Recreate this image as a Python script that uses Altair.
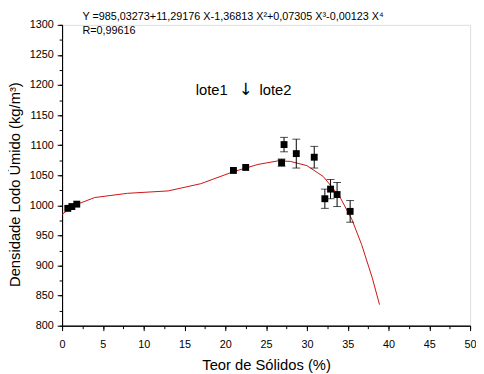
import altair as alt
import pandas as pd

# measured points (Teor de Sólidos %, Densidade kg/m3, error)
pt_x = [0.7, 1.2, 1.8, 21.0, 22.5, 26.9, 27.2, 28.7, 30.9, 32.2, 32.9, 33.7, 35.3]
pt_y = [995, 998, 1002, 1058, 1063, 1071, 1101, 1086, 1080, 1011, 1027, 1018, 990]
pt_err = [0, 0, 0, 0, 0, 6, 12, 24, 18, 16, 16, 20, 18]

# fitted curve
fit_x = [0, 1.5, 4, 8, 13, 17, 21, 24, 26.5, 28, 30, 32, 34, 35.5, 36.7, 38, 38.9]
fit_y = [985, 1000, 1013, 1020, 1024, 1036, 1056, 1068, 1074, 1073, 1066, 1048, 1015, 977, 935, 880, 835]

x_major = [0, 5, 10, 15, 20, 25, 30, 35, 40, 45, 50]
x_minor = [i * 2.5 for i in range(21)]
y_major = [800, 850, 900, 950, 1000, 1050, 1100, 1150, 1200, 1250, 1300]
y_minor = [800 + 25 * i for i in range(21)]

eq_text = "Y =985,03273+11,29176 X-1,36813 X²+0,07305 X³-0,00123 X⁴"
r_text = "R=0,99616"
lote_labels = ["lote1", "↓", "lote2"]

pts = pd.DataFrame({"x": pt_x, "y": pt_y, "lo": [a - b for a, b in zip(pt_y, pt_err)],
                    "hi": [a + b for a, b in zip(pt_y, pt_err)], "e": pt_err})
errs = pts[pts["e"] > 0]
fit = pd.DataFrame({"x": fit_x, "y": fit_y})

FONT = "Liberation Sans"
xs = alt.Scale(domain=[0, 50], nice=False)
ys = alt.Scale(domain=[800, 1300], nice=False)

x_main = alt.X("x:Q", scale=xs, axis=alt.Axis(
    values=x_major, title="Teor de Sólidos (%)", orient="bottom", grid=False, format="d",
    tickSize=5, labelFontSize=11, titleFontSize=15, titleFontWeight="normal",
    labelFont=FONT, titleFont=FONT, labelColor="black", titleColor="black",
    domainColor="black", tickColor="black", titlePadding=9, labelPadding=8,
    labelFlush=False))
y_main = alt.Y("y:Q", scale=ys, axis=alt.Axis(
    values=y_major, title="Densidade Lodo Úmido (kg/m³)", orient="left", grid=False, format="d",
    tickSize=5, labelFontSize=11, titleFontSize=15, titleFontWeight="normal",
    labelFont=FONT, titleFont=FONT, labelColor="black", titleColor="black",
    domainColor="black", tickColor="black", titlePadding=7, labelPadding=4,
    titleY=162, labelFlush=False))

x_min = alt.X("x:Q", scale=xs, axis=alt.Axis(
    values=x_minor, title=None, labels=False, orient="bottom", grid=False,
    tickSize=3, domainColor="black", tickColor="black"))
y_min = alt.Y("y:Q", scale=ys, axis=alt.Axis(
    values=y_minor, title=None, labels=False, orient="left", grid=False,
    tickSize=3, domainColor="black", tickColor="black"))

xn = alt.X("x:Q", scale=xs, axis=None)
yn = alt.Y("y:Q", scale=ys, axis=None)

line = alt.Chart(fit).mark_line(color="#cc1111", strokeWidth=1).encode(x=x_main, y=y_main)
minor = alt.Chart(fit).mark_line(opacity=0).encode(x=x_min, y=y_min)

rules = alt.Chart(errs).mark_rule(color="black", strokeWidth=1).encode(
    x=xn, y=alt.Y("lo:Q", scale=ys, axis=None), y2="hi:Q")
cap_lo = alt.Chart(errs).mark_tick(color="black", orient="horizontal", size=8, thickness=1).encode(
    x=xn, y=alt.Y("lo:Q", scale=ys, axis=None))
cap_hi = alt.Chart(errs).mark_tick(color="black", orient="horizontal", size=8, thickness=1).encode(
    x=xn, y=alt.Y("hi:Q", scale=ys, axis=None))
squares = alt.Chart(pts).mark_square(color="black", size=49, opacity=1).encode(x=xn, y=yn)

ann = pd.DataFrame({"x": [2.5, 2.5], "y": [1308, 1285], "t": [eq_text, r_text]})
txt = alt.Chart(ann).mark_text(align="left", baseline="alphabetic", font=FONT, fontSize=11,
                               color="black").encode(x=xn, y=yn, text="t:N")

lote1 = alt.Chart(pd.DataFrame({"x": [20.3], "y": [1191], "t": [lote_labels[0]]})).mark_text(
    align="right", baseline="middle", font=FONT, fontSize=15, color="black").encode(
    x=xn, y=yn, text="t:N")
arrow = alt.Chart(pd.DataFrame({"x": [22.55], "y": [1191], "t": [lote_labels[1]]})).mark_text(
    align="center", baseline="middle", font="DejaVu Sans", fontSize=17, color="black").encode(
    x=xn, y=yn, text="t:N")
lote2 = alt.Chart(pd.DataFrame({"x": [24.2], "y": [1191], "t": [lote_labels[2]]})).mark_text(
    align="left", baseline="middle", font=FONT, fontSize=15, color="black").encode(
    x=xn, y=yn, text="t:N")

chart = alt.layer(line, minor, rules, cap_lo, cap_hi, squares, txt, lote1, arrow, lote2).resolve_axis(
    x="independent", y="independent"
).properties(
    width=415, height=306,
    autosize=alt.AutoSizeParams(type="none"),
    padding={"left": 55, "top": 14, "right": 6, "bottom": 46},
).configure_view(stroke=None).configure(background="white")

chart.save("out.html", embed_options={"renderer": "svg", "actions": False})
